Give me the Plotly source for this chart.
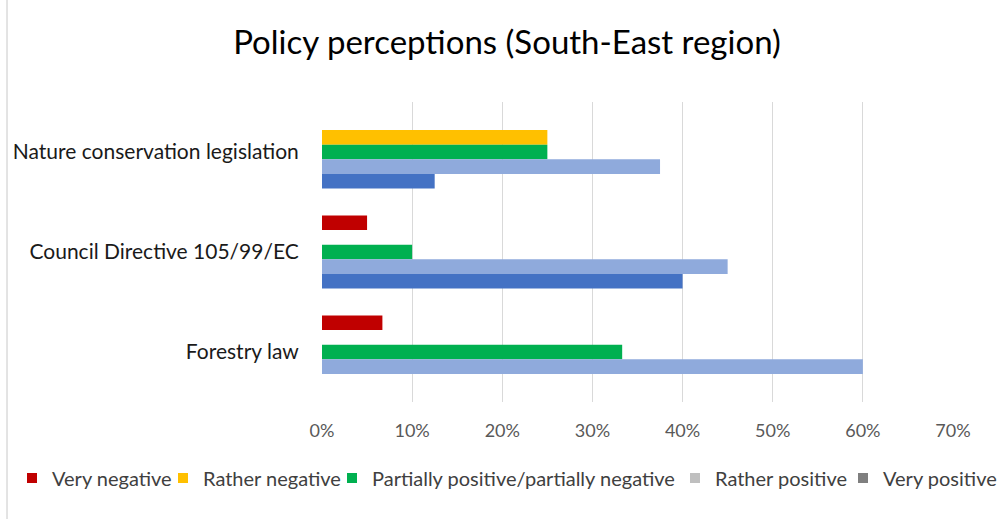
import plotly.graph_objects as go

# Policy instruments (top to bottom)
categories = ["Nature conservation legislation", "Council Directive 105/99/EC", "Forestry law"]

# Share of respondents per answer, in percent, per policy instrument
series_names = ["Very negative", "Rather negative", "Partially positive/partially negative",
                "Rather positive", "Very positive"]
very_negative = [0, 5, 6.7]
rather_negative = [25, 0, 0]
partially = [25, 10, 33.3]
rather_positive = [37.5, 45, 60]
very_positive = [12.5, 40, 0]

tick_values = [0, 10, 20, 30, 40, 50, 60, 70]
tick_labels = ["0%", "10%", "20%", "30%", "40%", "50%", "60%", "70%"]

bar_colors = ["#c00000", "#ffc000", "#00b050", "#8faadc", "#4472c4"]
swatch_colors = ["#c00000", "#ffc000", "#00b050", "#bfbfbf", "#7f7f7f"]

FONT = "Lato"
TEXT = "#595959"

W, H = 1004, 519
ML, MR, MT, MB = 322, 51, 102, 117

fig = go.Figure()
series = [very_negative, rather_negative, partially, rather_positive, very_positive]
for name, vals, col in zip(series_names, series, bar_colors):
    fig.add_trace(go.Bar(
        y=categories, x=vals, name=name, orientation="h",
        marker=dict(color=col, line=dict(width=0)),
        showlegend=False, hoverinfo="x+y",
    ))

# Legend entries, one legend box each so they sit in a single tight row
legend_x = [12, 163, 332, 675, 843]
legend_ids = ["legend", "legend2", "legend3", "legend4", "legend5"]
for name, col, lid in zip(series_names, swatch_colors, legend_ids):
    fig.add_trace(go.Scatter(
        x=[None], y=[None], mode="markers", name=name,
        marker=dict(symbol="square", size=10, color=col),
        legend=lid, showlegend=True,
    ))

legend_layout = {}
for lid, lx in zip(legend_ids, legend_x):
    legend_layout[lid] = dict(
        xref="container", yref="container", x=lx / W, y=1 - 478 / H,
        xanchor="left", yanchor="middle", orientation="h",
        bgcolor="rgba(0,0,0,0)", borderwidth=0,
        font=dict(family=FONT, size=20, color="#404040"),
        itemwidth=30,
    )

fig.update_layout(
    width=W, height=H,
    margin=dict(l=ML, r=MR, t=MT, b=MB),
    paper_bgcolor="white", plot_bgcolor="white",
    barmode="group", bargap=0.27, bargroupgap=0,
    title=dict(text="Policy perceptions (South-East region)",
               x=507 / W, xanchor="center", y=1 - 42 / H, yanchor="middle",
               font=dict(family=FONT, size=33, color="#000000")),
    font=dict(family=FONT, size=18, color=TEXT),
    xaxis=dict(range=[0, 70], tickvals=tick_values, ticktext=tick_labels,
               showgrid=True, gridcolor="#d9d9d9", gridwidth=1,
               zeroline=False, showline=False,
               ticks="outside", ticklen=12, tickcolor="rgba(0,0,0,0)",
               tickfont=dict(family=FONT, size=18, color=TEXT)),
    yaxis=dict(categoryorder="array", categoryarray=categories, autorange="reversed",
               showgrid=False, zeroline=False, showline=False,
               ticks="outside", ticklen=18, tickcolor="rgba(0,0,0,0)",
               tickfont=dict(family=FONT, size=21, color="#1a1a1a")),
    shapes=[dict(type="line", xref="paper", yref="paper",
                 x0=(7 - ML) / (W - ML - MR), x1=(7 - ML) / (W - ML - MR),
                 y0=-MB / (H - MT - MB), y1=1 + MT / (H - MT - MB),
                 line=dict(color="#c8c8c8", width=1))],
    **legend_layout,
)

fig.write_html("out.html")
